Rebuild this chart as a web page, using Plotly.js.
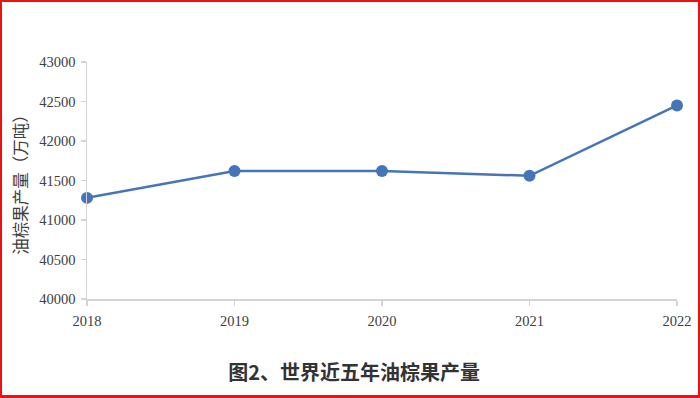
<!DOCTYPE html>
<html>
<head>
<meta charset="utf-8">
<script src="https://cdn.plot.ly/plotly-3.0.1.min.js"></script>
<style>
html,body{margin:0;padding:0;background:#fff;}
#wrap{position:relative;width:700px;height:398px;}
#chart{width:700px;height:398px;}
#frame{position:absolute;left:0;top:0;width:700px;height:398px;box-sizing:border-box;border:2px solid #ee1111;border-bottom-width:3px;pointer-events:none;}
</style>
</head>
<body>
<div id="wrap"><div id="chart"></div><div id="frame"></div></div>
<script>
const years = ["2018", "2019", "2020", "2021", "2022"];
const production = [41280, 41620, 41620, 41560, 42450];
const yTicks = [40000, 40500, 41000, 41500, 42000, 42500, 43000];
const chartTitle = "图2、世界近五年油棕果产量";
const yTitle = "油棕果产量（万吨）";

const trace = {
  x: years,
  y: production,
  type: "scatter",
  mode: "lines+markers",
  line: {color: "#4674b9", width: 2.5},
  marker: {color: "#4674b9", size: 12},
  cliponaxis: false,
  hoverinfo: "none"
};

const layout = {
  width: 700,
  height: 398,
  margin: {l: 87, r: 23, t: 62, b: 99},
  paper_bgcolor: "#ffffff",
  plot_bgcolor: "#ffffff",
  showlegend: false,
  title: {
    text: "<b>" + chartTitle + "</b>",
    font: {family: "Noto Sans CJK SC", size: 20, color: "#333333"},
    x: 0.506, xanchor: "center",
    y: 0.063, yanchor: "middle", yref: "container"
  },
  xaxis: {
    type: "category",
    range: [0, 4],
    showgrid: false,
    zeroline: false,
    showline: true,
    linecolor: "#d4d4d4",
    linewidth: 1.5,
    ticks: "outside",
    ticklen: 5,
    tickcolor: "#d4d4d4",
    tickwidth: 1.5,
    ticklabelstandoff: 3,
    tickfont: {family: "Liberation Serif", size: 14.5, color: "#404040"}
  },
  yaxis: {
    range: [40000, 43000],
    tickvals: yTicks,
    ticktext: yTicks.map(String),
    showgrid: false,
    zeroline: false,
    showline: true,
    linecolor: "#d4d4d4",
    linewidth: 1.5,
    ticks: "outside",
    ticklen: 5,
    tickcolor: "#d4d4d4",
    tickwidth: 1.5,
    ticklabelstandoff: 2,
    tickfont: {family: "Liberation Serif", size: 14.5, color: "#404040"},
    title: {
      text: yTitle,
      font: {family: "Noto Sans CJK SC", size: 16.5, color: "#404040"},
      standoff: 7
    }
  }
};

Plotly.newPlot("chart", [trace], layout, {displayModeBar: false, staticPlot: true});
</script>
</body>
</html>
